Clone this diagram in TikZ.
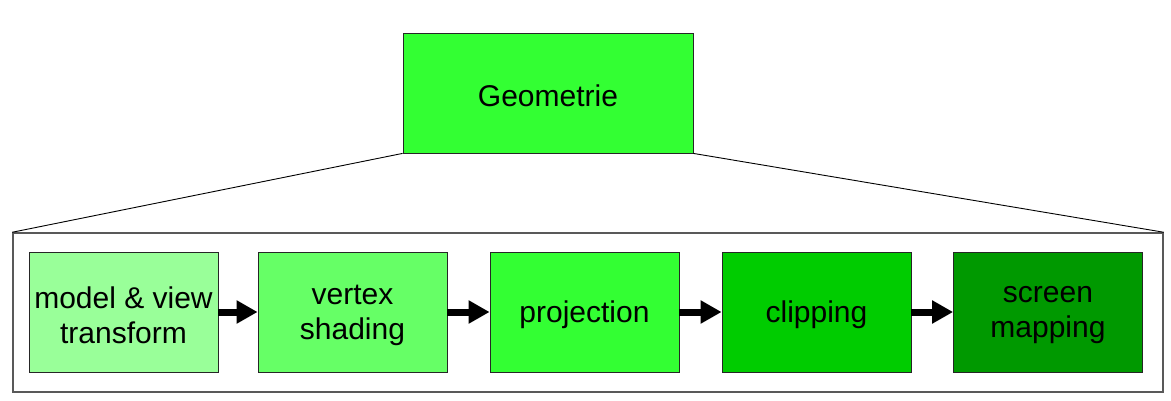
\documentclass[tikz,border=0pt]{standalone}
\usepackage{fontspec}
\setmainfont{Liberation Sans}
\usetikzlibrary{arrows.meta}
\definecolor{greenA}{HTML}{99FF99}
\definecolor{greenB}{HTML}{66FF66}
\definecolor{greenC}{HTML}{33FF33}
\definecolor{greenD}{HTML}{00CC00}
\definecolor{greenE}{HTML}{009900}
% lower a line of text without changing its box
\newcommand{\lowline}[1]{\raisebox{-3pt}[\height][\depth]{#1}}
\begin{document}
\begin{tikzpicture}[
        x=1pt, y=-1pt,
        stage/.style={draw=black!85, line width=0.8pt, minimum width=189pt, minimum height=120pt,
            inner sep=0pt, align=center, font=\fontsize{30}{35}\selectfont},
        frame/.style={draw=black!65, line width=1.5pt, minimum width=1150pt, minimum height=159pt, inner sep=0pt},
        arrow/.style={-{Triangle[length=21pt,width=22pt]}, line width=7pt},
        zoomline/.style={line width=0.9pt}
    ]
    \useasboundingbox (0,0) rectangle (1171,400);

    % Top stage
    \node[stage, fill=greenC, minimum width=290pt] (geo) at (548,93) {\lowline{Geometrie}};

    % Enlarged view
    \node[frame] (frame) at (588,312.5) {};
    \draw[zoomline] (geo.south west) -- (frame.north west);
    \draw[zoomline] (geo.south east) -- (frame.north east);

    % Pipeline stages
    \node[stage, fill=greenA] (model) at (123.5,312) {\lowline{model \& view}\\\lowline{transform}};
    \node[stage, fill=greenB] (vertex) at (352.5,312) {\lowline{vertex}\\\lowline{shading}};
    \node[stage, fill=greenC] (proj) at (584.5,312) {\lowline{projection}};
    \node[stage, fill=greenD] (clip) at (816.5,312) {\lowline{clipping}};
    \node[stage, fill=greenE] (screen) at (1048,312) {\lowline{screen}\\\lowline{mapping}};

    % Arrows between stages
    \draw[arrow] (model) -- (vertex);
    \draw[arrow] (vertex) -- (proj);
    \draw[arrow] (proj) -- (clip);
    \draw[arrow] (clip) -- (screen);

\end{tikzpicture}
\end{document}
